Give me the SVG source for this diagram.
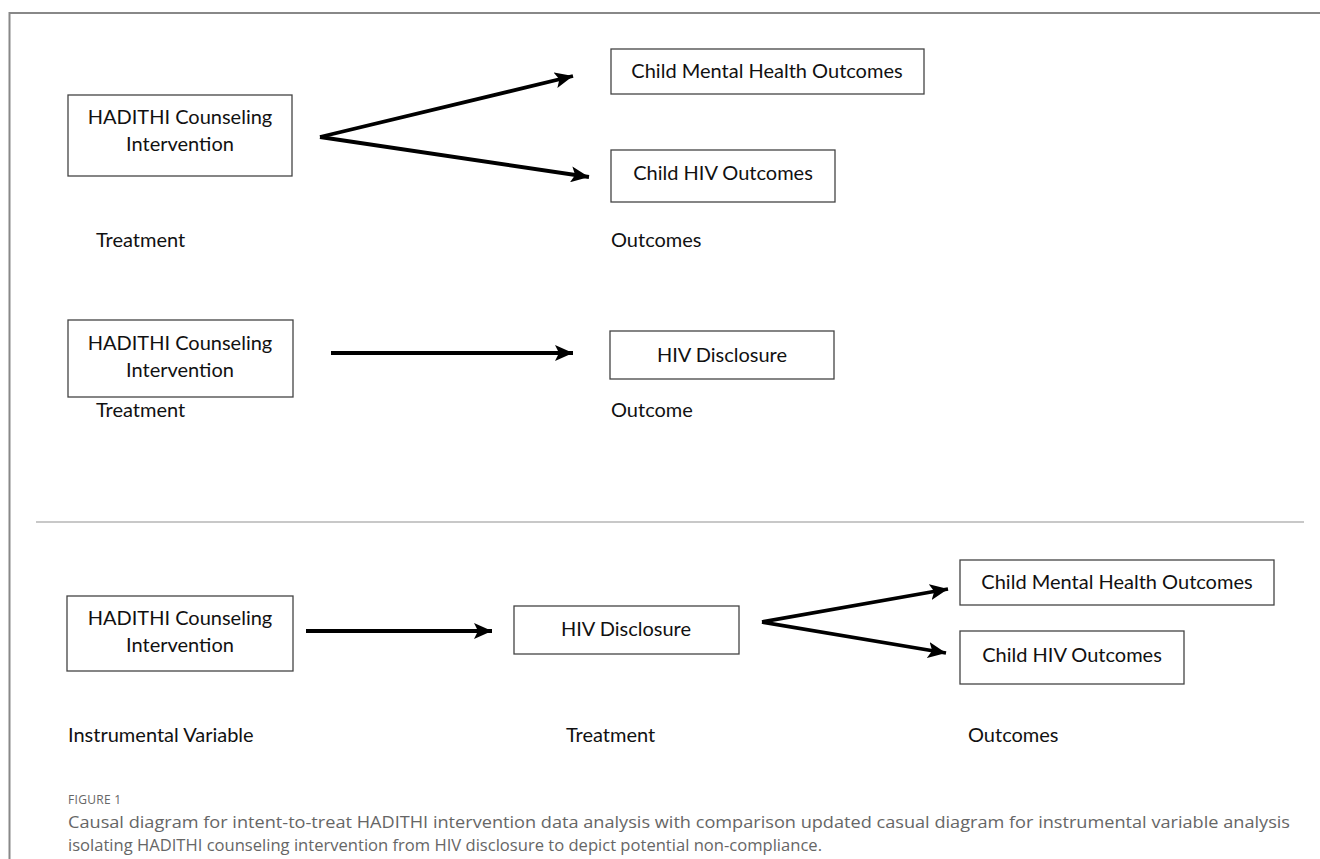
<svg xmlns="http://www.w3.org/2000/svg" width="1320" height="859" viewBox="0 0 1320 859">
<defs>
<style>
.box{fill:#fff;stroke:#444;stroke-width:1.3}
.t{font-family:Lato,"Liberation Sans",sans-serif;font-size:20px;fill:#111}
.c{text-anchor:middle}
.cap{font-family:"Open Sans","Liberation Sans",sans-serif;font-size:17px;fill:#666}
.fig{font-family:"Open Sans","Liberation Sans",sans-serif;font-size:12px;fill:#666;letter-spacing:0.3px}
.arr{stroke:#000;stroke-width:3.8;fill:none;marker-end:url(#ah)}
</style>
<marker id="ah" markerUnits="userSpaceOnUse" markerWidth="20" markerHeight="16" refX="18" refY="8" orient="auto">
<path d="M0,0 L18,8 L0,16 L4,8 Z" fill="#000"/>
</marker>
</defs>
<rect width="1320" height="859" fill="#fff"/>
<g id="frame" stroke="#888" stroke-width="2" fill="none">
<path d="M9.5,859 V13 H1320"/>
</g>
<line x1="36" y1="522" x2="1304" y2="522" stroke="#c8c8c8" stroke-width="2"/>

<g id="connectors">
<line class="arr" x1="320" y1="137" x2="573" y2="76"/>
<line class="arr" x1="320" y1="137" x2="589" y2="177"/>
<line class="arr" x1="331" y1="353" x2="573" y2="353"/>
<line class="arr" x1="306" y1="631" x2="492" y2="631"/>
<line class="arr" x1="762" y1="622" x2="948" y2="589"/>
<line class="arr" x1="762" y1="622" x2="946" y2="653"/>
</g>

<g id="itt-treatment">
<rect class="box" x="68" y="95" width="224" height="81"/>
<text class="t c" x="180" y="124">HADITHI Counseling</text>
<text class="t c" x="180" y="151">Intervention</text>
</g>
<g id="itt-mental">
<rect class="box" x="611" y="49" width="313" height="45"/>
<text class="t c" x="767" y="78">Child Mental Health Outcomes</text>
</g>
<g id="itt-hiv">
<rect class="box" x="611" y="150" width="224" height="52"/>
<text class="t c" x="723" y="180">Child HIV Outcomes</text>
</g>
<text class="t" x="96" y="247">Treatment</text>
<text class="t" x="611" y="247">Outcomes</text>

<g id="mid-treatment">
<rect class="box" x="68" y="320" width="225" height="77"/>
<text class="t c" x="180" y="350">HADITHI Counseling</text>
<text class="t c" x="180" y="377">Intervention</text>
</g>
<g id="mid-disclosure">
<rect class="box" x="610" y="331" width="224" height="48"/>
<text class="t c" x="722" y="362">HIV Disclosure</text>
</g>
<text class="t" x="96" y="417">Treatment</text>
<text class="t" x="611" y="417">Outcome</text>

<g id="iv-instrument">
<rect class="box" x="67" y="596" width="226" height="75"/>
<text class="t c" x="180" y="625">HADITHI Counseling</text>
<text class="t c" x="180" y="652">Intervention</text>
</g>
<g id="iv-disclosure">
<rect class="box" x="514" y="606" width="225" height="48"/>
<text class="t c" x="626" y="636">HIV Disclosure</text>
</g>
<g id="iv-mental">
<rect class="box" x="960" y="560" width="314" height="45"/>
<text class="t c" x="1117" y="589">Child Mental Health Outcomes</text>
</g>
<g id="iv-hiv">
<rect class="box" x="960" y="631" width="224" height="53"/>
<text class="t c" x="1072" y="662">Child HIV Outcomes</text>
</g>
<text class="t" x="68" y="742">Instrumental Variable</text>
<text class="t" x="566" y="742">Treatment</text>
<text class="t" x="968" y="742">Outcomes</text>

<text class="fig" x="68" y="804">FIGURE 1</text>
<text class="cap" x="68" y="828" textLength="1222" lengthAdjust="spacingAndGlyphs">Causal diagram for intent-to-treat HADITHI intervention data analysis with comparison updated casual diagram for instrumental variable analysis</text>
<text class="cap" x="68" y="851" textLength="754" lengthAdjust="spacingAndGlyphs">isolating HADITHI counseling intervention from HIV disclosure to depict potential non-compliance.</text>
</svg>
